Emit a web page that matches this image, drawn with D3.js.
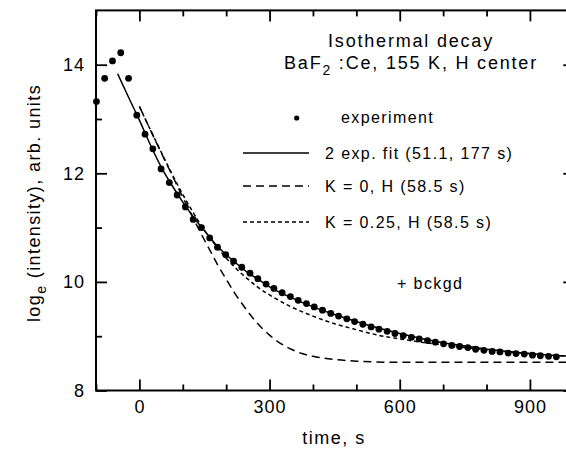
<!DOCTYPE html>
<html>
<head>
<meta charset="utf-8">
<script src="https://cdn.jsdelivr.net/npm/d3@7"></script>
<style>
  body { margin: 0; background: #fff; }
  text { font-family: "Liberation Sans", Arial, sans-serif; fill: #000; }
</style>
</head>
<body>
<svg id="chart" width="566" height="452"></svg>
<script>
// experiment points (time in s, ln intensity)
var expTime = [-99, -80, -62, -43, -25, -6, 13, 31, 50, 69, 87, 106, 124, 143, 162, 180, 199, 217, 236, 255,
  273, 292, 310, 329, 348, 366, 385, 403, 422, 441, 459, 478, 496, 515, 534, 552, 571, 589, 608, 627,
  645, 664, 682, 701, 720, 738, 757, 775, 794, 813, 831, 850, 868, 887, 906, 924, 943, 961];
var expValue = [13.32, 13.75, 14.07, 14.22, 13.75, 13.07, 12.72, 12.45, 12.08, 11.83, 11.60, 11.38, 11.15, 11.00, 10.81, 10.64, 10.50, 10.38, 10.27, 10.16,
  10.06, 9.96, 9.88, 9.80, 9.73, 9.66, 9.60, 9.54, 9.48, 9.42, 9.37, 9.32, 9.27, 9.22, 9.17, 9.13, 9.09, 9.05, 9.01, 8.98,
  8.95, 8.92, 8.89, 8.86, 8.83, 8.81, 8.79, 8.76, 8.74, 8.72, 8.71, 8.69, 8.68, 8.67, 8.65, 8.64, 8.63, 8.62];

// 2 exp. fit (51.1, 177 s)
var fitTime = [-50, -25, 0, 25, 50, 75, 100, 125, 150, 175, 200, 225, 250, 275, 300, 350, 400, 450, 500, 550, 600, 650, 700, 750, 800, 850, 900, 950, 1000];
var fitValue = [13.83, 13.40, 12.98, 12.53, 12.12, 11.78, 11.47, 11.19, 10.94, 10.70, 10.50, 10.33, 10.17, 10.04, 9.91, 9.71, 9.54, 9.40, 9.27, 9.15, 9.05, 8.96, 8.88, 8.82, 8.76, 8.72, 8.68, 8.65, 8.63];

// K = 0, H (58.5 s)
var k0Time = [0, 20, 40, 60, 80, 100, 120, 140, 160, 180, 200, 220, 240, 260, 280, 300, 325, 350, 375, 400, 450, 500, 600, 700, 800, 900, 1000];
var k0Value = [13.23, 12.89, 12.55, 12.22, 11.89, 11.56, 11.24, 10.92, 10.62, 10.32, 10.05, 9.79, 9.56, 9.35, 9.17, 9.02, 8.87, 8.76, 8.68, 8.63, 8.57, 8.54, 8.52, 8.52, 8.52, 8.52, 8.52];

// K = 0.25, H (58.5 s)
var k25Time = [0, 20, 40, 60, 80, 100, 120, 140, 160, 180, 200, 225, 250, 275, 300, 350, 400, 450, 500, 550, 600, 650, 700, 750, 800, 850, 900, 950, 1000];
var k25Value = [13.23, 12.89, 12.56, 12.23, 11.91, 11.61, 11.33, 11.07, 10.84, 10.63, 10.44, 10.23, 10.05, 9.89, 9.76, 9.54, 9.37, 9.23, 9.12, 9.02, 8.95, 8.89, 8.84, 8.79, 8.75, 8.71, 8.68, 8.65, 8.63];

var xMajor = [0, 300, 600, 900];
var xMinor = [-100, 100, 200, 400, 500, 700, 800, 1000];
var yMajor = [8, 10, 12, 14];
var yMinor = [9, 11, 13];

var svg = d3.select("#chart");
var plotL = 96, plotR = 573.3, plotT = 10.4, plotB = 390.5;

var x = d3.scaleLinear().domain([-100, 1000]).range([plotL, plotR]);
var y = d3.scaleLinear().domain([8, 15]).range([plotB, plotT]);

svg.append("clipPath").attr("id", "plot")
  .append("rect").attr("x", plotL).attr("y", plotT)
  .attr("width", plotR - plotL).attr("height", plotB - plotT);

// axes, ticks pointing in
function styleAxis(g) {
  g.select(".domain").remove();
  g.selectAll(".tick line").attr("stroke", "#000").attr("stroke-width", 1.8);
  g.selectAll(".tick text").attr("font-size", 18).style("letter-spacing", "1px");
}
svg.append("g").attr("transform", "translate(0," + plotB + ")")
  .call(d3.axisBottom(x).tickValues(xMajor).tickSize(-11).tickPadding(10).tickFormat(d3.format("d")))
  .call(styleAxis);
svg.append("g").attr("transform", "translate(0," + plotB + ")")
  .call(d3.axisBottom(x).tickValues(xMinor).tickSize(-6).tickFormat(""))
  .call(styleAxis);
svg.append("g").attr("transform", "translate(0," + plotT + ")")
  .call(d3.axisTop(x).tickValues(xMajor).tickSize(-11).tickFormat(""))
  .call(styleAxis);
svg.append("g").attr("transform", "translate(0," + plotT + ")")
  .call(d3.axisTop(x).tickValues(xMinor).tickSize(-6).tickFormat(""))
  .call(styleAxis);
svg.append("g").attr("transform", "translate(" + plotL + ",0)")
  .call(d3.axisLeft(y).tickValues(yMajor).tickSize(-11).tickPadding(11).tickFormat(d3.format("d")))
  .call(styleAxis);
svg.append("g").attr("transform", "translate(" + plotL + ",0)")
  .call(d3.axisLeft(y).tickValues(yMinor).tickSize(-6).tickFormat(""))
  .call(styleAxis);
svg.append("g").attr("transform", "translate(" + plotR + ",0)")
  .call(d3.axisRight(y).tickValues(yMajor).tickSize(-10).tickFormat(""))
  .call(styleAxis);

svg.append("rect").attr("x", plotL).attr("y", plotT)
  .attr("width", plotR - plotL).attr("height", plotB - plotT)
  .attr("fill", "none").attr("stroke", "#000").attr("stroke-width", 2);

// curves
var plot = svg.append("g").attr("clip-path", "url(#plot)");
function drawCurve(ts, vs, dash) {
  var line = d3.line().curve(d3.curveMonotoneX)
    .x(function(d) { return x(d[0]); })
    .y(function(d) { return y(d[1]); });
  plot.append("path")
    .datum(ts.map(function(t, i) { return [t, vs[i]]; }))
    .attr("d", line)
    .attr("fill", "none").attr("stroke", "#000").attr("stroke-width", 1.5)
    .attr("stroke-dasharray", dash);
}
drawCurve(k0Time, k0Value, "8,5");
drawCurve(k25Time, k25Value, "4,3");
drawCurve(fitTime, fitValue, null);

svg.append("g").selectAll("circle")
  .data(expTime)
  .enter().append("circle")
  .attr("cx", function(d) { return x(d); })
  .attr("cy", function(d, i) { return y(expValue[i]); })
  .attr("r", 3.4)
  .attr("fill", "#000");

// title
var title = svg.append("g").attr("text-anchor", "middle").attr("font-size", 18).style("letter-spacing", "1.8px");
title.append("text").attr("x", 411).attr("y", 47).text("Isothermal decay");
var t2 = title.append("text").attr("x", 411).attr("y", 69);
t2.append("tspan").text("BaF");
t2.append("tspan").attr("dy", 6).attr("font-size", 14).text("2");
t2.append("tspan").attr("dy", -6).text(" :Ce, 155 K, H center");

// legend
var legend = svg.append("g").attr("font-size", 16).style("letter-spacing", "1.4px");
legend.append("circle").attr("cx", 296.7).attr("cy", 118).attr("r", 2.6).attr("fill", "#000");
legend.append("text").attr("x", 341).attr("y", 123).text("experiment");
var legendRows = [
  { y: 153, dash: null, label: "2 exp. fit (51.1, 177 s)" },
  { y: 186, dash: "8,5", label: "K = 0, H (58.5 s)" },
  { y: 222, dash: "4,3", label: "K = 0.25, H (58.5 s)" }
];
legendRows.forEach(function(r) {
  legend.append("line").attr("x1", 243).attr("x2", 309).attr("y1", r.y).attr("y2", r.y)
    .attr("stroke", "#000").attr("stroke-width", 1.5).attr("stroke-dasharray", r.dash);
  legend.append("text").attr("x", 325).attr("y", r.y + 6).text(r.label);
});
legend.append("text").attr("x", 397).attr("y", 289).text("+ bckgd");

// axis titles
svg.append("text").attr("x", 334).attr("y", 444).attr("text-anchor", "middle")
  .attr("font-size", 18).style("letter-spacing", "1.5px").text("time, s");
var yt = svg.append("text").attr("transform", "translate(40,203) rotate(-90)")
  .attr("text-anchor", "middle").attr("font-size", 18).style("letter-spacing", "1.4px");
yt.append("tspan").text("log");
yt.append("tspan").attr("dy", 6).attr("font-size", 14).text("e");
yt.append("tspan").attr("dy", -6).text("  (intensity), arb. units");
</script>
</body>
</html>
